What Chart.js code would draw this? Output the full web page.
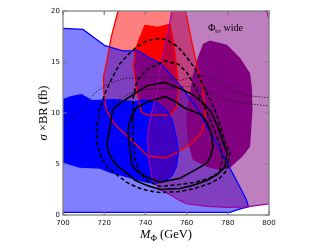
<!DOCTYPE html>
<html>
<head>
<meta charset="utf-8">
<script src="https://cdn.jsdelivr.net/npm/chart.js@4.4.1/dist/chart.umd.min.js"></script>
<style>
  html, body { margin: 0; padding: 0; background: #fff; }
  canvas { display: block; }
</style>
</head>
<body>
<canvas id="contourChart" width="332" height="249"></canvas>
<script>
// axis ticks
const massTicks = [700, 720, 740, 760, 780, 800];
const xsecTicks = [0, 5, 10, 15, 20];

// contour regions: [M_Phi (GeV), sigma x BR (fb)]
const redOuter = [[727.5,21],[726.7,20],[723.5,17.5],[721.4,15.2],[719.6,13.5],[719.8,12],[721,10.3],[724,9.2],[728,8.3],[732.5,7.5],[738,6.4],[741,5.8],[749.5,5.6],[756,6.2],[761.6,6.9],[767,8.0],[769,9.3],[768.7,11],[767.5,12.7],[765.5,14.2],[762.5,17],[759.5,20],[759,21]];
const redInner = [[739.8,18.6],[746,18.4],[752,18.7],[754,16.5],[755.5,14],[756,12],[755,10.5],[752,9.8],[741,9.8],[738,10.1],[736,12],[734.2,14.5],[735,16.2],[739.8,18.6]];
const blueOuter = [[694,18.3],[700,18.3],[709.7,18.2],[720.4,16.6],[729,16.1],[736.4,16.1],[742,15.4],[747,14.9],[752,13.8],[758,12.4],[765,10.5],[773,7.6],[781,4.6],[786,2.7],[789,1.5],[790,0.8],[786,0.6],[781,0.25],[694,0.25]];
const blueInner = [[694,11.3],[700,11.3],[704,11.6],[709,11.8],[714,11.2],[725,11.3],[735,11.1],[740,11.3],[745,11.1],[750,10.3],[753,9.3],[755,7.6],[756,6.1],[755,4.7],[753,3.9],[750,3.4],[745,3.1],[741,3.2],[734,3.6],[722.8,4.2],[718,4.6],[708,4.7],[700,5.2],[694,5.2]];
const purpleOuter = [[753.5,21],[752,19],[751,18.1],[748,15.2],[747,14.2],[745.5,12],[743,10],[741.5,8.5],[741,7.4],[742,5.1],[743.5,3.4],[747,2.5],[752,2.0],[756,1.5],[760,1.1],[770,0.85],[780,0.75],[789,0.8],[800,1.1],[806,1.3],[806,17],[800,19.3],[797,21]];
const purpleInner = [[768,16.8],[771.4,17.1],[779.6,16.7],[786,15.4],[790.8,13.9],[791.7,12.5],[792,10.3],[790.8,6.7],[787,5.7],[781,4.6],[776,4.4],[770,4.7],[763,5.4],[760.7,7.1],[760,8.6],[760,10.3],[761.6,11.8],[763,13.7],[765.5,15.5],[768,16.8]];

// black likelihood contours
const solidOuter = [[724,10.3],[728,11.0],[734,11.8],[741,12.7],[749.5,13.0],[757.8,12.3],[763,11.8],[767.5,11.1],[771.5,10.2],[775,8.8],[777.7,7.1],[779.6,6.1],[778.6,4.7],[775,4.0],[770,3.4],[763,2.9],[756.8,2.6],[747,2.5],[740.8,2.9],[735,3.4],[731,4.1],[727,4.7],[724,5.4],[722,6.2],[721.4,7.1],[722.8,8.6],[724,10.3]];
const solidInner = [[731.5,8.3],[733,9.6],[735.5,10.5],[741,11.1],[749.5,11.6],[754,11.2],[759,10.5],[764,10.1],[767.5,9.8],[770,9.0],[772,8],[772.8,6.7],[771.5,5.7],[770,5.1],[764,4.4],[756.8,3.6],[747,3.2],[740.8,3.7],[736,4.3],[733.5,4.9],[732.5,6.4],[731.5,8.3]];
const dashedOuter = [[716.5,8.8],[718,10.5],[720.5,12],[723.5,13.3],[727.5,14.8],[732,15.8],[736,16.5],[741,17.1],[746,17.3],[750,17.2],[755.8,16.5],[760.7,15.3],[765,14.1],[768,12.7],[772.8,10.8],[776,9],[778.6,7.1],[781,6.1],[779.6,4.4],[776,3.6],[771.4,3.1],[764,2.6],[756.8,2.3],[747,2.2],[741,2.4],[736,2.7],[731,3.2],[727.7,3.7],[721.4,4.7],[718.5,5.7],[716.5,7],[716.5,8.8]];
const dashedInner = [[734,9.5],[734,11.5],[736,13.2],[741,14.3],[749.5,15.1],[755.8,14.8],[760,14],[763,13],[766,11.8],[770,10],[773.5,8.3],[776,7],[777.5,5.5],[776,4.2],[771,3.6],[764,3.2],[756.8,3.0],[747,2.8],[741,3.3],[737,4.2],[735,5.5],[734,7.5],[734,9.5]];
const dottedUpper = [[700,8.8],[704,9.5],[709.7,10.3],[715.5,12],[722,12.9],[730,13.4],[743.7,13.5],[750,13.5],[757,13.2],[762,13.5],[768,13.7],[774,13.1],[779.6,12.5],[789,11.7],[800,11.5]];
const dottedLower = [[700,5.6],[706,6.8],[712,8],[716.5,8.8],[720,9.9],[725,11],[732,11.9],[740,12.3],[750,12.4],[760,12.6],[766,12.5],[772,12],[779,11.3],[790,10.9],[800,10.7]];

const pts = arr => arr.map(([x, y]) => ({ x, y }));

function region(data, color) {
    return { data: pts(data), showLine: true, fill: 'shape', backgroundColor: color,
             borderWidth: 0, borderColor: 'transparent', pointRadius: 0, clip: 0 };
}
function outline(data, color, width, dash) {
    return { data: pts(data), showLine: true, fill: false, borderColor: color,
             borderWidth: width, borderDash: dash || [], pointRadius: 0, clip: 0 };
}

// listed bottom to top
const layers = [
    region(redOuter, 'rgba(255,0,0,0.5)'),
    region(redInner, '#ff0000'),
    region(blueOuter, 'rgba(0,0,255,0.5)'),
    region(blueInner, '#0000ff'),
    region(purpleOuter, 'rgba(128,0,128,0.5)'),
    region(purpleInner, '#800080'),
    outline(redOuter, '#ff0000', 1.3),
    outline(redInner, '#ff0000', 1.3),
    outline(blueOuter, '#0000ff', 1.3),
    outline(blueInner, '#0000ff', 1.3),
    outline(purpleOuter, '#a000a0', 1.2),
    outline(dottedUpper, '#000', 1, [1, 2]),
    outline(dottedLower, '#000', 1, [1, 2]),
    outline(dashedOuter, '#000', 1.6, [4, 2.5]),
    outline(dashedInner, '#000', 1.6, [4, 2.5]),
    outline(solidOuter, '#000', 1.7),
    outline(solidInner, '#000', 1.7)
];
layers.forEach((d, i) => { d.order = layers.length - i; });

const frameAndLabels = {
    id: 'frameAndLabels',
    afterDraw(chart) {
        const { ctx, chartArea: a, scales: { x, y } } = chart;
        ctx.save();
        ctx.strokeStyle = '#7a7a7a';
        ctx.lineWidth = 1.2;
        ctx.strokeRect(a.left, a.top, a.right - a.left, a.bottom - a.top);
        ctx.beginPath();
        massTicks.forEach(v => {
            const px = x.getPixelForValue(v);
            ctx.moveTo(px, a.bottom); ctx.lineTo(px, a.bottom - 4);
            ctx.moveTo(px, a.top); ctx.lineTo(px, a.top + 4);
        });
        xsecTicks.forEach(v => {
            const py = y.getPixelForValue(v);
            ctx.moveTo(a.left, py); ctx.lineTo(a.left + 4, py);
            ctx.moveTo(a.right, py); ctx.lineTo(a.right - 4, py);
        });
        ctx.stroke();

        ctx.fillStyle = '#000';
        ctx.textBaseline = 'alphabetic';
        // x title: M_Phi (GeV)
        const big = '12.5px "Liberation Serif"';
        const small = '9px "Liberation Serif"';
        ctx.font = 'italic ' + big;
        const wM = ctx.measureText('M').width;
        ctx.font = small;
        const wPhi = ctx.measureText('\u03A6').width;
        ctx.font = big;
        const wRest = ctx.measureText(' (GeV)').width;
        let cx = (a.left + a.right) / 2 - (wM + wPhi + wRest) / 2;
        const by = 238;
        ctx.font = 'italic ' + big; ctx.fillText('M', cx, by); cx += wM;
        ctx.font = small; ctx.fillText('\u03A6', cx, by + 3); cx += wPhi;
        ctx.font = big; ctx.fillText(' (GeV)', cx, by);

        // y title: sigma x BR (fb)
        ctx.translate(47, (a.top + a.bottom) / 2);
        ctx.rotate(-Math.PI / 2);
        ctx.font = 'italic ' + big;
        const wS = ctx.measureText('\u03C3').width;
        ctx.font = big;
        const wT = ctx.measureText(' \u00D7BR (fb)').width;
        let cy = -(wS + wT) / 2;
        ctx.font = 'italic ' + big; ctx.fillText('\u03C3', cy, 0); cy += wS;
        ctx.font = big; ctx.fillText(' \u00D7BR (fb)', cy, 0);
        ctx.restore();

        // annotation
        ctx.save();
        ctx.fillStyle = '#000';
        ctx.font = '10px "Liberation Serif"';
        let ax = 208;
        ctx.fillText('\u03A6', ax, 31); ax += ctx.measureText('\u03A6').width;
        ctx.font = '6.5px "Liberation Serif"';
        ctx.fillText('b', ax, 33); ax += ctx.measureText('b').width;
        ctx.font = '10px "Liberation Serif"';
        ctx.fillText(', wide', ax, 31);
        ctx.restore();
    }
};

new Chart(document.getElementById('contourChart'), {
    type: 'scatter',
    data: { datasets: layers },
    options: {
        responsive: false,
        animation: false,
        layout: { padding: { top: 11, right: 63, left: 0, bottom: 0 } },
        plugins: { legend: { display: false }, tooltip: { enabled: false } },
        elements: { line: { tension: 0 } },
        scales: {
            x: {
                type: 'linear', min: 700, max: 800,
                afterBuildTicks: s => { s.ticks = massTicks.map(v => ({ value: v })); },
                afterFit: s => { s.height = 34; },
                grid: { display: false, drawTicks: false },
                border: { display: false },
                ticks: { padding: 4, color: '#111', font: { family: 'DejaVu Sans', size: 7 }, maxRotation: 0 }
            },
            y: {
                type: 'linear', min: 0, max: 20,
                afterBuildTicks: s => { s.ticks = xsecTicks.map(v => ({ value: v })); },
                afterFit: s => { s.width = 63; },
                grid: { display: false, drawTicks: false },
                border: { display: false },
                ticks: { padding: 3, color: '#111', font: { family: 'DejaVu Sans', size: 7 } }
            }
        }
    },
    plugins: [frameAndLabels]
});
</script>
</body>
</html>
